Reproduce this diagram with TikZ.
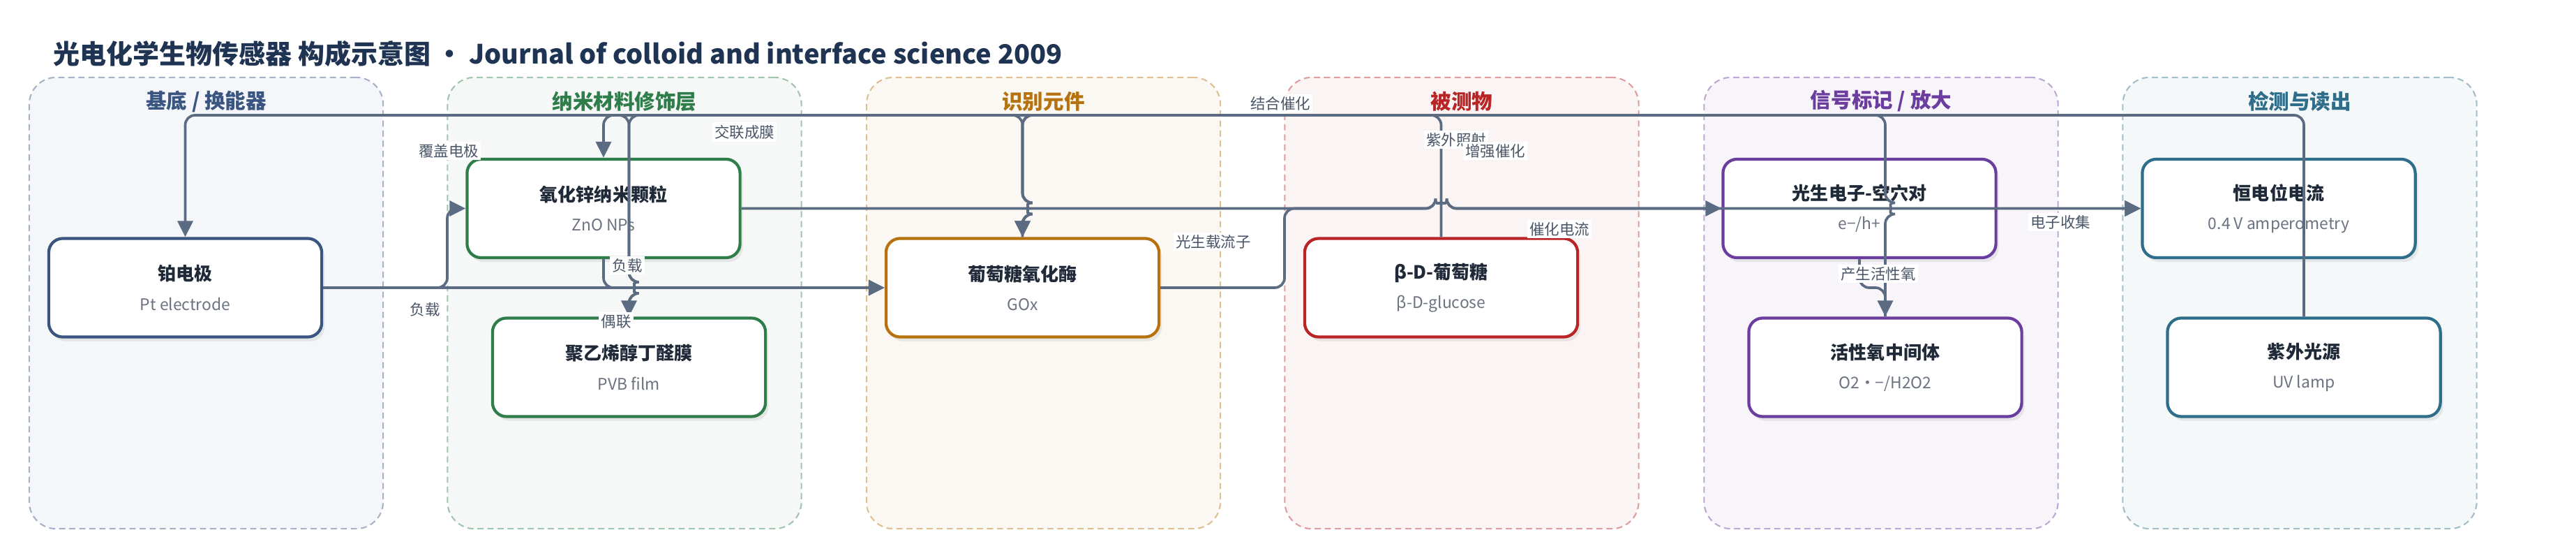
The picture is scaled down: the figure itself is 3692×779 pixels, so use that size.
\documentclass[tikz,border=0pt]{standalone}
\usepackage{fontspec}
\setmainfont{Noto Sans CJK SC}
\usetikzlibrary{arrows.meta, shadows, positioning}

\definecolor{ptc}{HTML}{3A5580}
\definecolor{znc}{HTML}{2E7D4A}
\definecolor{goc}{HTML}{B5720E}
\definecolor{bdc}{HTML}{B92525}
\definecolor{sgc}{HTML}{6A3D9E}
\definecolor{dtc}{HTML}{2F6E8A}
\definecolor{edgegray}{HTML}{5A6B82}
\definecolor{labelgray}{HTML}{4A5568}
\definecolor{subgray}{HTML}{6B7280}
\definecolor{titlec}{HTML}{1F3352}
\definecolor{inkc}{HTML}{1F2937}

\tikzset{
    lane/.style = {draw = #1!45, fill = #1!5, dash pattern = on 2.5pt off 1.6pt, line width = .6pt,
                   rounded corners = 11pt, minimum width = 5.07cm, minimum height = 6.46cm, inner sep = 0pt},
    hdr/.style = {text = #1, font = \fontsize{8.4pt}{10pt}\selectfont\bfseries},
    box/.style = {draw = #1, fill = white, line width = 1.2pt, rounded corners = 5.7pt,
                  minimum width = 3.91cm, minimum height = 1.41cm, inner sep = 0pt, align = center,
                  drop shadow = {opacity = .15, shadow xshift = .04cm, shadow yshift = -.06cm}},
    edge/.style = {draw = edgegray, line width = 1.05pt, rounded corners = 4pt,
                   -{Triangle[length = 6.5pt, width = 6.2pt]}},
    elabel/.style = {fill = white, inner sep = 1pt, text = labelgray, font = \fontsize{6.1pt}{7pt}\selectfont}
}

% two-line box text: bold name, grey subtitle
\newcommand{\nodetxt}[2]{{\fontsize{7.4pt}{9.7pt}\selectfont\bfseries\color{inkc}#1}\\{\fontsize{6.5pt}{9.7pt}\selectfont\color{subgray}#2}}
% line jumps
\newcommand{\hopup}{arc [start angle = -90, end angle = 90, radius = .08cm]}
\newcommand{\hopdown}{arc [start angle = 90, end angle = -90, radius = .08cm]}
\newcommand{\hopright}{arc [start angle = 180, end angle = 0, radius = .08cm]}

\begin{document}
\begin{tikzpicture}[x = .01cm, y = -.01cm]
    \useasboundingbox (0,0) rectangle (3692,779);

    % Title:
    \node [anchor = west, inner sep = 0pt, text = titlec, font = \fontsize{10.8pt}{13pt}\selectfont\bfseries] (title)
        at (76,77) {光电化学生物传感器 构成示意图 • Journal of colloid and interface science 2009};

    % Draw the lanes:
    \foreach \x/\hd/\lc in {295.5/{基底 / 换能器}/ptc, 895/{纳米材料修饰层}/znc, 1495.5/{识别元件}/goc,
                            2095/{被测物}/bdc, 2696/{信号标记 / 放大}/sgc, 3296/{检测与读出}/dtc}
    {
        \node [lane = \lc] (lane\lc) at (\x,434) {};
        \node [hdr = \lc] (head\lc) at (\x,145) {\hd};
    }

    % Draw the components:
    \node [box = ptc] (pt)  at (265.5,412)  {\nodetxt{铂电极}{Pt electrode}};
    \node [box = znc] (zno) at (865,298.5)  {\nodetxt{氧化锌纳米颗粒}{ZnO NPs}};
    \node [box = znc] (pvb) at (901.5,526)  {\nodetxt{聚乙烯醇丁醛膜}{PVB film}};
    \node [box = goc] (gox) at (1465.5,412) {\nodetxt{葡萄糖氧化酶}{GOx}};
    \node [box = bdc] (glc) at (2065.5,412) {\nodetxt{β-D-葡萄糖}{β-D-glucose}};
    \node [box = sgc] (ehp) at (2665,298.5) {\nodetxt{光生电子-空穴对}{e−/h+}};
    \node [box = sgc] (ros) at (2702,526)   {\nodetxt{活性氧中间体}{O2•−/H2O2}};
    \node [box = dtc] (amp) at (3266,298.5) {\nodetxt{恒电位电流}{0.4 V amperometry}};
    \node [box = dtc] (uv)  at (3302,526)   {\nodetxt{紫外光源}{UV lamp}};

    % Draw the connections:
    \draw [edge] (pt.east) -- (641,412) |- (zno.west);
    \draw [edge] (pt.east) -- (gox.west);
    \draw [edge] (zno.south) |- (gox.west);
    \draw [edge] (pvb.north) -- (901.5,420) \hopup -- (901.5,165) -| (pt.north);
    \draw [edge] (gox.north) -- (1465.5,306.5) \hopup -- (1465.5,165) -- (901.5,165) -- (901.5,404) \hopdown -- (pvb.north);
    \draw [edge] (glc.north) |- (1465.5,165) -- (1465.5,290.5) \hopdown -- (gox.north);
    \draw [edge] (ros.north) -- (2702,306.5) \hopup -- (2702,165) -- (1465.5,165) -- (1465.5,290.5) \hopdown -- (gox.north);
    \draw [edge] (uv.north) |- (865,165) -- (zno.north);
    \draw [edge] (zno.east) -- (2057.5,298.5) \hopright -- (ehp.west);
    \draw [edge] (gox.east) -| (1841,298.5) -- (2057.5,298.5) \hopright -- (amp.west);
    \draw [edge] (ehp.south) |- (2702,412) -- (ros.north);
    \draw [edge] (ehp.east) -- (amp.west);

    % Draw the edge labels:
    \node [elabel] (lcover)  at (643,216)  {覆盖电极};
    \node [elabel] (lcross)  at (1067,189) {交联成膜};
    \node [elabel] (lloada)  at (609,443)  {负载};
    \node [elabel] (lloadb)  at (899,380)  {负载};
    \node [elabel] (lcouple) at (883,460)  {偶联};
    \node [elabel] (lbind)   at (1835,148) {结合催化};
    \node [elabel] (luv)     at (2087,200) {紫外照射};
    \node [elabel] (lboost)  at (2143,216) {增强催化};
    \node [elabel] (lcarrier) at (1739,346) {光生载流子};
    \node [elabel] (lcurrent) at (2235,328) {催化电流};
    \node [elabel] (lros)    at (2692,392) {产生活性氧};
    \node [elabel] (lcollect) at (2953,318) {电子收集};
\end{tikzpicture}
\end{document}
